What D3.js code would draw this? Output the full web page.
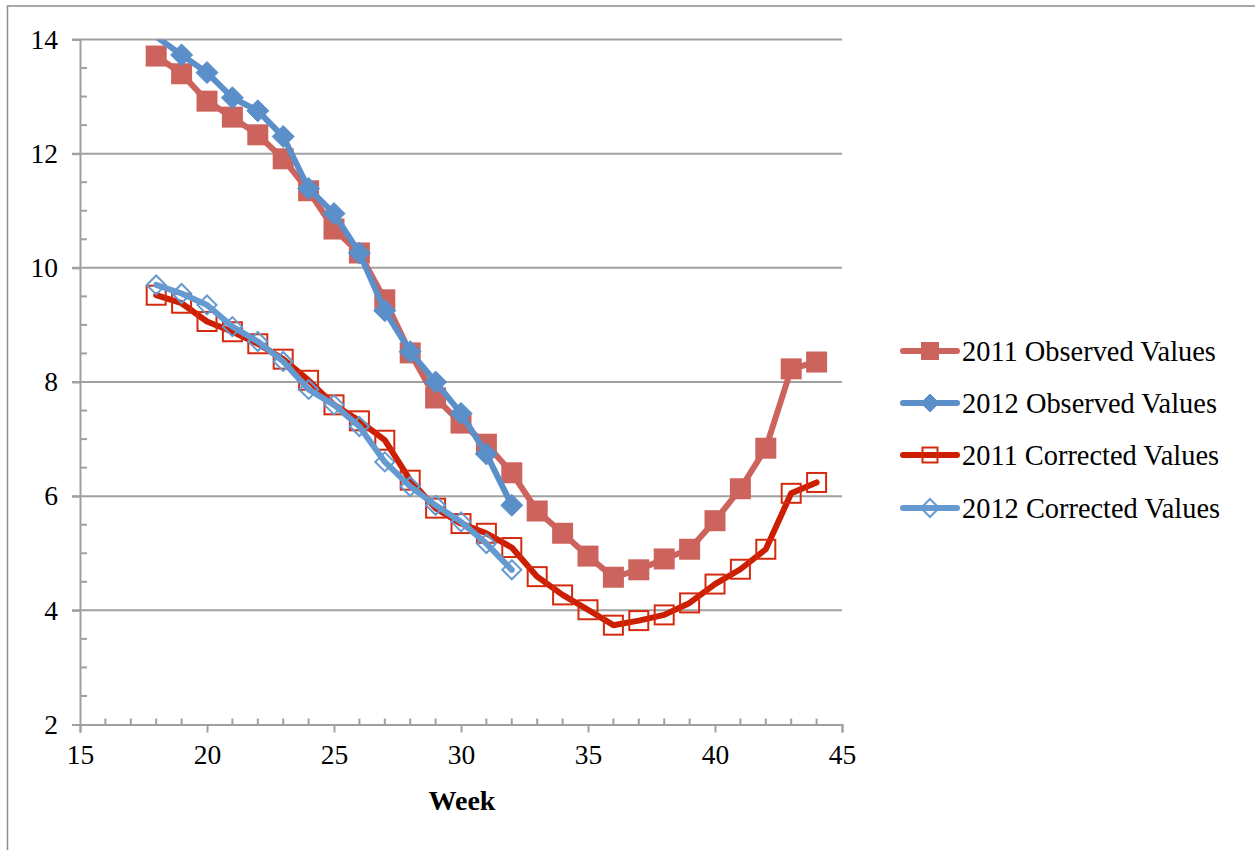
<!DOCTYPE html>
<html><head><meta charset="utf-8">
<script src="https://cdn.jsdelivr.net/npm/d3@7"></script>
<style>body{margin:0;background:#fff}svg{display:block}text{font-family:"Liberation Serif","Times New Roman",serif;fill:#000}</style>
</head><body>
<svg id="c" width="1255" height="850"></svg>
<script>
const weeks2011 = [18,19,20,21,22,23,24,25,26,27,28,29,30,31,32,33,34,35,36,37,38,39,40,41,42,43,44];
const weeks2012 = [18,19,20,21,22,23,24,25,26,27,28,29,30,31,32];
const obs2011 = [13.71,13.40,12.92,12.64,12.33,11.91,11.35,10.68,10.26,9.44,8.51,7.72,7.28,6.91,6.41,5.74,5.35,4.95,4.58,4.71,4.90,5.07,5.57,6.13,6.84,8.23,8.35];
const obs2012 = [14.05,13.73,13.42,12.98,12.75,12.30,11.39,10.95,10.26,9.25,8.53,8.00,7.45,6.74,5.84];
const cor2011 = [9.52,9.38,9.06,8.88,8.67,8.40,8.03,7.60,7.32,6.98,6.28,5.79,5.52,5.35,5.10,4.59,4.27,4.01,3.74,3.82,3.92,4.13,4.46,4.72,5.07,6.05,6.24];
const cor2012 = [9.70,9.55,9.35,8.97,8.71,8.36,7.87,7.60,7.22,6.60,6.17,5.84,5.55,5.17,4.71];
const seriesNames = ["2011 Observed Values","2012 Observed Values","2011 Corrected Values","2012 Corrected Values"];
const xTicks = [15,20,25,30,35,40,45];
const yTicks = [2,4,6,8,10,12,14];
const xDomain = [15,45], yDomain = [2,14];

const svg = d3.select("#c");
const L = 80, R = 842, T = 39.5, B = 724.5;
const x = d3.scaleLinear().domain(xDomain).range([L,R]);
const y = d3.scaleLinear().domain(yDomain).range([B,T]);

// outer border (top and left visible)
svg.append("rect").attr("x",7.5).attr("y",6).attr("width",1260).attr("height",860)
  .attr("fill","none").attr("stroke","#8c8c8c").attr("stroke-width",1.5);

const grid = "#a0a0a0";
svg.append("g").selectAll("line").data(yTicks.filter(v=>v>yDomain[0])).join("line")
  .attr("x1",L-8).attr("x2",R).attr("y1",d=>y(d)).attr("y2",d=>y(d))
  .attr("stroke",grid).attr("stroke-width",2);

const yAxis = svg.append("g").attr("transform",`translate(${L},0)`)
  .call(d3.axisLeft(y).tickValues(yTicks).tickSize(8).tickPadding(14).tickFormat(d3.format("d")));
yAxis.select(".domain").attr("stroke",grid).attr("stroke-width",2);
yAxis.selectAll(".tick line").attr("stroke",grid).attr("stroke-width",2);
yAxis.selectAll("text").attr("font-size",27.5).attr("font-family","Liberation Serif").attr("fill","#000");
const yMinor = d3.range(yDomain[0]+0.5, yDomain[1], 0.5).filter(v=>v%2!==0);
svg.append("g").selectAll("line").data(yMinor).join("line")
  .attr("x1",L).attr("x2",L+7).attr("y1",d=>y(d)).attr("y2",d=>y(d))
  .attr("stroke",grid).attr("stroke-width",2);

const xAxis = svg.append("g").attr("transform",`translate(0,${B})`)
  .call(d3.axisBottom(x).tickValues(xTicks).tickSize(8).tickPadding(12).tickFormat(d3.format("d")));
xAxis.select(".domain").attr("stroke",grid).attr("stroke-width",2);
xAxis.selectAll(".tick line").attr("stroke",grid).attr("stroke-width",2);
xAxis.selectAll("text").attr("font-size",27.5).attr("font-family","Liberation Serif").attr("fill","#000");
const xMinor = d3.range(xDomain[0]+1, xDomain[1], 1).filter(v=>v%5!==0);
svg.append("g").selectAll("line").data(xMinor).join("line")
  .attr("x1",d=>x(d)).attr("x2",d=>x(d)).attr("y1",B).attr("y2",B-6)
  .attr("stroke",grid).attr("stroke-width",2);

svg.append("text").attr("x",462).attr("y",810).attr("text-anchor","middle")
  .attr("font-size",28).attr("font-weight","bold").text("Week");

svg.append("clipPath").attr("id","pa").append("rect").attr("x",L).attr("y",T).attr("width",R-L).attr("height",B-T);

const series = [
  {name:seriesNames[0], w:weeks2011, v:obs2011, line:"#cd635d", lw:6, shape:"square", size:21, fill:"#cd635d", stroke:"none", sw:0},
  {name:seriesNames[1], w:weeks2012, v:obs2012, line:"#5b8fc9", lw:6, shape:"diamond", size:22, fill:"#5b8fc9", stroke:"#5b8fc9", sw:1},
  {name:seriesNames[2], w:weeks2011, v:cor2011, line:"#cc1e00", lw:6, shape:"square", size:19, fill:"none", stroke:"#d42a10", sw:2},
  {name:seriesNames[3], w:weeks2012, v:cor2012, line:"#649ad0", lw:6, shape:"diamond", size:19, fill:"none", stroke:"#649ad0", sw:2},
];

function marker(g, s, cx, cy){
  if(s.shape==="square"){
    g.append("rect").attr("x",cx-s.size/2).attr("y",cy-s.size/2).attr("width",s.size).attr("height",s.size)
      .attr("fill",s.fill).attr("stroke",s.stroke).attr("stroke-width",s.sw);
  } else {
    const h=s.size/2;
    g.append("path").attr("d",`M${cx},${cy-h}L${cx+h},${cy}L${cx},${cy+h}L${cx-h},${cy}Z`)
      .attr("fill",s.fill).attr("stroke",s.stroke).attr("stroke-width",s.sw);
  }
}

const line = d3.line().x(d=>x(d[0])).y(d=>y(d[1]));
series.forEach(s=>{
  const pts = s.w.map((w,i)=>[w,s.v[i]]);
  const g = svg.append("g");
  g.append("path").attr("d",line(pts)).attr("fill","none").attr("stroke",s.line)
    .attr("stroke-width",s.lw).attr("stroke-linejoin","round").attr("stroke-linecap","round")
    .attr("clip-path","url(#pa)");
  pts.filter(p=>p[1]<=yDomain[1] && p[1]>=yDomain[0]).forEach(p=>marker(g,s,x(p[0]),y(p[1])));
});

const legY = [351,403,455,508];
series.forEach((s,i)=>{
  const g = svg.append("g");
  g.append("line").attr("x1",903).attr("x2",957).attr("y1",legY[i]).attr("y2",legY[i])
    .attr("stroke",s.line).attr("stroke-width",s.lw).attr("stroke-linecap","round");
  marker(g, Object.assign({}, s, {size: s.shape==="square"? (s.fill==="none"?15:18) : 18}), 930, legY[i]);
  g.append("text").attr("x",962).attr("y",legY[i]+10).attr("font-size",28.4).text(s.name);
});
</script>
</body></html>
